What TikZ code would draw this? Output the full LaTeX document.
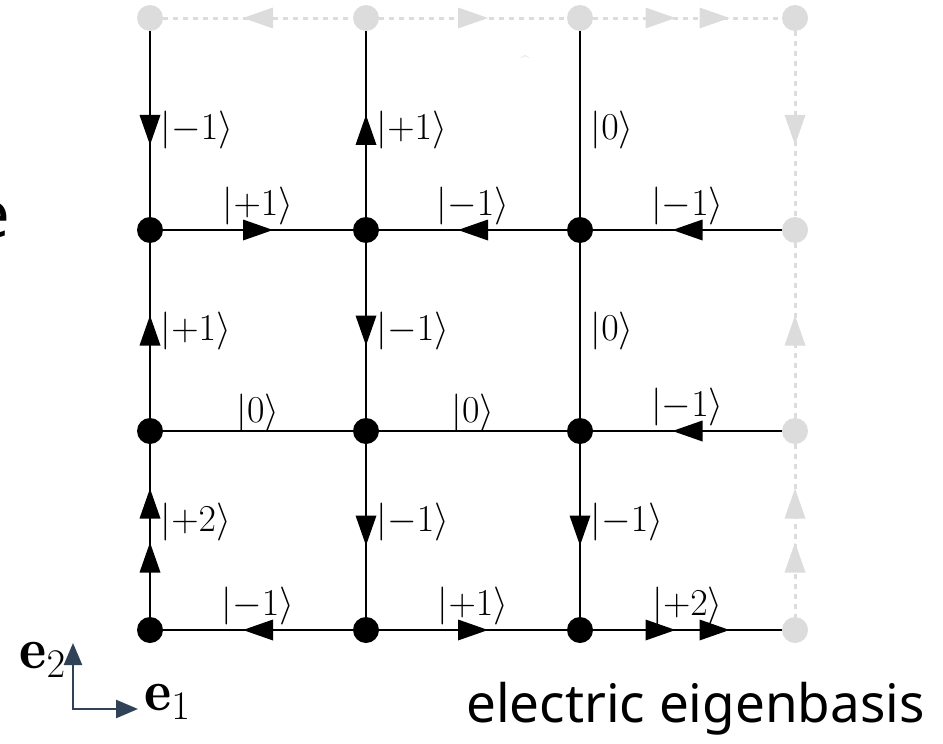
\RequirePackage{fix-cm}
\documentclass[tikz,border=0pt]{standalone}
\usepackage{fontspec}
\newfontfamily\nsans{Noto Sans}
\usetikzlibrary{decorations.markings,arrows.meta}
\definecolor{lgray}{RGB}{220,220,220}
\definecolor{axcol}{RGB}{47,66,87}
\newcommand\tri[1]{\fill[shift={(#1,0pt)}] (-15pt,-10.5pt) -- (15pt,0pt) -- (-15pt,10.5pt) -- cycle;}
\newcommand\rtri[1]{\fill[shift={(#1,0pt)}] (15pt,-10.5pt) -- (-15pt,0pt) -- (15pt,10.5pt) -- cycle;}
\tikzset{
  bnode/.style={circle, fill=black, inner sep=0pt, minimum size=26pt},
  gnode/.style={circle, fill=lgray, inner sep=0pt, minimum size=26pt},
  edge/.style={line width=2.8pt, black},
  gedge/.style={line width=3pt, lgray, dash pattern=on 5pt off 5pt},
  fw/.style={postaction={decorate}, decoration={markings, mark=at position #1 with {\tri{0pt}}}},
  fw/.default=0.5,
  bw/.style={postaction={decorate}, decoration={markings, mark=at position #1 with {\rtri{0pt}}}},
  bw/.default=0.5,
  fwtwo/.style={postaction={decorate}, decoration={markings, mark=at position 0.5 with {\tri{-27pt}\tri{27pt}}}},
  bwtwo/.style={postaction={decorate}, decoration={markings, mark=at position 0.5 with {\rtri{-27pt}\rtri{27pt}}}},
  lab/.style={font=\fontsize{38}{44}\selectfont, text=black},
  vlab/.style={lab, right, xshift=6pt},
  hlab/.style={lab, above, pos=0.5},
}
\begin{document}
\begin{tikzpicture}[x=1pt, y=-1pt]
\useasboundingbox (0,0) rectangle (943,744);
% nodes
\node[gnode] (n00) at (150,18) {};
\node[gnode] (n10) at (366,18) {};
\node[gnode] (n20) at (580,18) {};
\node[gnode] (n30) at (795,18) {};
\node[gnode] (n31) at (795,230) {};
\node[gnode] (n32) at (795,431) {};
\node[gnode] (n33) at (795,630) {};
\node[bnode] (n01) at (150,230) {};
\node[bnode] (n11) at (366,230) {};
\node[bnode] (n21) at (580,230) {};
\node[bnode] (n02) at (150,431) {};
\node[bnode] (n12) at (366,431) {};
\node[bnode] (n22) at (580,431) {};
\node[bnode] (n03) at (150,630) {};
\node[bnode] (n13) at (366,630) {};
\node[bnode] (n23) at (580,630) {};
% gray boundary edges
\draw[gedge, bw] (n00) -- (n10);
\draw[gedge, fw] (n10) -- (n20);
\draw[gedge, fwtwo] (n20) -- (n30);
\draw[gedge, fw=0.532] (n30) -- (n31);
\draw[gedge, bw] (n31) -- (n32);
\draw[gedge, bwtwo] (n32) -- (n33);
% vertical edges
\draw[edge, fw=0.532] (n00) -- node[vlab, pos=0.53] {$|{-}1\rangle$} (n01);
\draw[edge, bw=0.532] (n10) -- node[vlab, pos=0.53] {$|{+}1\rangle$} (n11);
\draw[edge] (n20) -- node[vlab, pos=0.53] {$|0\rangle$} (n21);
\draw[edge, bw] (n01) -- node[vlab, pos=0.5] {$|{+}1\rangle$} (n02);
\draw[edge, fw] (n11) -- node[vlab, pos=0.5] {$|{-}1\rangle$} (n12);
\draw[edge] (n21) -- node[vlab, pos=0.5] {$|0\rangle$} (n22);
\draw[edge, bwtwo] (n02) -- node[vlab, pos=0.45] {$|{+}2\rangle$} (n03);
\draw[edge, fw] (n12) -- node[vlab, pos=0.45] {$|{-}1\rangle$} (n13);
\draw[edge, fw] (n22) -- node[vlab, pos=0.45] {$|{-}1\rangle$} (n23);
% horizontal edges
\draw[edge, fw] (n01) -- node[hlab] {$|{+}1\rangle$} (n11);
\draw[edge, bw] (n11) -- node[hlab] {$|{-}1\rangle$} (n21);
\draw[edge, bw] (n21) -- node[hlab] {$|{-}1\rangle$} (n31);
\draw[edge] (n02) -- node[hlab, yshift=-6pt] {$|0\rangle$} (n12);
\draw[edge] (n12) -- node[hlab, yshift=-6pt] {$|0\rangle$} (n22);
\draw[edge, bw] (n22) -- node[hlab] {$|{-}1\rangle$} (n32);
\draw[edge, bw] (n03) -- node[hlab] {$|{-}1\rangle$} (n13);
\draw[edge, fw] (n13) -- node[hlab] {$|{+}1\rangle$} (n23);
\draw[edge, fwtwo] (n23) -- node[hlab] {$|{+}2\rangle$} (n33);
% axes
\coordinate (ax2) at (73,643);
\coordinate (ax1) at (138,709);
\draw[axcol, line width=2.5pt, {Triangle[length=22pt,width=18pt]}-{Triangle[length=22pt,width=18pt]}] (ax2) |- (ax1);
\node[anchor=east, font=\fontsize{58}{64}\selectfont, inner sep=0pt] (e2) at (66,660) {$\mathbf{e}_2$};
\node[anchor=west, font=\fontsize{58}{64}\selectfont, inner sep=0pt] (e1) at (144,702) {$\mathbf{e}_1$};
% texts
\node[anchor=base west, inner sep=0pt, font=\nsans\fontsize{53}{60}\selectfont] (title) at (466,722) {electric eigenbasis};
\node[anchor=base east, inner sep=0pt, font=\nsans\fontsize{65}{70}\selectfont] (cut) at (10,237) {e};
\node[inner sep=0pt, text=lgray, font=\fontsize{16}{18}\selectfont] (caret) at (525,62) {\textasciicircum};
\end{tikzpicture}
\end{document}
